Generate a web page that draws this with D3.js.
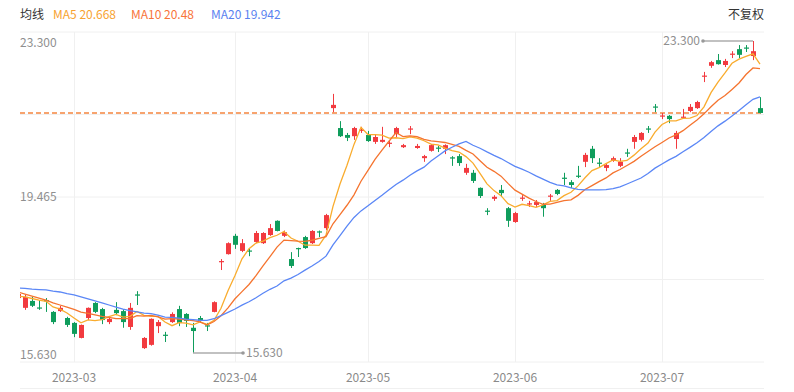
<!DOCTYPE html>
<html><head><meta charset="utf-8">
<script src="https://cdn.jsdelivr.net/npm/d3@7"></script>
<style>
body{margin:0;background:#fff}
svg{display:block}
text{font-family:"Noto Sans CJK SC","Noto Sans",sans-serif}
</style>
</head><body>
<svg id="chart" width="794" height="392"></svg>
<script>
// ---- data ----
const opens  = [16.98,16.74,16.91,16.75,16.93,16.64,16.66,16.49,16.37,16.00,16.49,16.86,16.71,16.39,16.69,16.66,16.27,17.07,15.75,15.83,
  16.29,16.08,16.39,16.71,16.59,16.25,16.49,16.31,16.64,17.87,18.06,18.51,18.14,18.15,18.36,18.33,18.53,18.88,18.51,17.94,
  18.21,18.48,18.33,18.62,18.70,21.65,21.16,20.99,20.96,21.10,20.99,20.82,20.82,20.78,21.01,20.69,21.12,20.67,20.42,20.60,
  20.68,20.65,20.44,20.47,20.06,20.06,19.69,19.13,19.42,19.64,19.19,18.85,19.43,19.28,19.27,19.27,19.48,19.64,19.94,19.83,
  19.99,20.33,20.65,20.31,20.18,20.35,20.23,20.56,20.82,20.87,21.15,21.69,21.44,21.46,20.89,21.42,21.58,21.65,22.43,22.69,
  22.83,22.71,22.97,23.10,23.14,22.93,21.65];
const highs  = [17.13,17.06,17.01,16.93,16.98,16.66,16.79,16.52,16.39,16.33,16.75,16.88,16.74,16.49,16.88,16.71,16.86,17.15,16.02,16.48,
  16.44,16.15,16.63,16.79,16.61,16.37,16.54,16.37,16.90,17.94,18.35,18.56,18.43,18.21,18.63,18.60,18.80,18.89,18.64,18.11,
  18.22,18.51,18.65,18.64,19.05,22.00,21.33,21.04,21.19,21.19,21.09,20.99,21.19,20.84,21.19,20.77,21.21,20.77,20.50,20.77,
  20.72,20.76,20.47,20.52,20.28,20.13,19.70,19.19,19.51,19.76,19.22,19.10,19.51,19.37,19.39,19.32,19.54,19.66,20.06,19.88,
  20.23,20.55,20.72,20.42,20.30,20.46,20.42,20.65,20.99,21.06,21.21,21.75,21.53,21.48,21.09,21.63,21.75,21.83,22.54,22.81,
  22.98,22.86,23.05,23.20,23.20,23.30,21.92];
const lows   = [16.93,16.69,16.76,16.69,16.64,16.34,16.64,16.27,16.02,15.99,16.44,16.61,16.34,16.34,16.56,16.25,16.20,16.81,15.73,15.81,
  16.12,15.90,16.37,16.29,16.27,15.63,16.37,16.17,16.63,17.67,18.05,18.19,18.11,18.01,18.33,18.31,18.51,18.62,18.48,17.72,
  17.99,18.19,18.31,18.48,18.65,21.55,20.94,20.84,20.87,21.04,20.82,20.77,20.80,20.69,20.94,20.67,21.01,20.65,20.33,20.58,
  20.57,20.52,20.23,20.23,20.01,19.81,19.44,19.02,19.37,19.47,18.73,18.83,19.37,19.22,19.22,18.98,19.37,19.51,19.76,19.69,
  19.93,20.20,20.30,20.20,20.10,20.33,20.20,20.45,20.65,20.83,21.04,21.55,21.38,21.28,20.65,21.41,21.55,21.63,22.29,22.64,
  22.72,22.66,22.88,22.88,23.03,22.83,21.52];
const closes = [17.08,17.01,16.79,16.72,16.90,16.39,16.74,16.32,16.10,16.32,16.74,16.64,16.44,16.47,16.61,16.39,16.74,17.04,16.00,16.47,
  16.39,16.06,16.59,16.37,16.42,16.17,16.42,16.28,16.88,17.89,18.33,18.29,18.33,18.13,18.58,18.58,18.70,18.63,18.60,17.77,
  18.19,18.21,18.63,18.59,19.02,21.73,20.96,20.92,21.16,21.12,20.84,20.94,20.87,20.80,21.16,20.74,21.15,20.72,20.47,20.74,
  20.66,20.74,20.41,20.30,20.18,19.86,19.49,19.11,19.47,19.56,18.88,19.07,19.45,19.31,19.34,19.19,19.50,19.54,19.92,19.76,
  19.97,20.50,20.42,20.29,20.25,20.42,20.33,20.53,20.94,21.04,21.12,21.67,21.47,21.38,21.04,21.44,21.68,21.80,22.45,22.78,
  22.73,22.81,22.99,22.96,23.12,23.05,21.53];
// moving-average values before a full window exists
const ma5Head  = [17.03,17.01,16.97,16.93];
const ma10Head = [17.13,17.08,17.03,16.98,16.93,16.86,16.81,16.76,16.70];
const ma20Head = [17.23,17.22,17.20,17.19,17.18,17.15,17.13,17.09,17.06,17.01,16.96,16.91,16.86,16.81,16.76,16.71,16.67,16.64,16.61];
const monthTickIndex  = [8,31,50,71,92];
const monthTickLabels = ["2023-03","2023-04","2023-05","2023-06","2023-07"];
const yTickValues = [23.3,19.465,15.63];
const yTickLabels = ["23.300","19.465","15.630"];
const legendNames  = ["MA5","MA10","MA20"];
const legendValues = ["20.668","20.48","19.942"];

// ---- styles ----
const UP = "#f23a3f", DOWN = "#0f9d5c";
const maColors = ["#f9ac2e","#f5742f","#5b87f6"];
const legendColors = ["#f7a330","#f8743a","#5a82f0"];

const svg = d3.select("#chart");
const L = 20, R = 764, T = 32, B = 362;
const x = d3.scaleLinear().domain([0, closes.length - 1]).range([18, 760]);
const y = d3.scaleLinear().domain([15.63, 23.3]).range([353, 41]);

function movingAvg(n, head) {
  return closes.map((c, i) => i < n - 1 ? head[i] : d3.mean(closes.slice(i - n + 1, i + 1)));
}
const mas = [movingAvg(5, ma5Head), movingAvg(10, ma10Head), movingAvg(20, ma20Head)];

// grid
const grid = svg.append("g").attr("stroke", "#f0f0f0").attr("stroke-width", 1);
d3.range(5).forEach(k => {
  const gy = T + k * (B - T) / 4;
  grid.append("line").attr("x1", L).attr("x2", R).attr("y1", gy).attr("y2", gy);
});
grid.append("line").attr("x1", L).attr("x2", R).attr("y1", 388.5).attr("y2", 388.5);
monthTickIndex.forEach(i => {
  const gx = Math.round(x(i)) + 0.5;
  grid.append("line").attr("x1", gx).attr("x2", gx).attr("y1", T).attr("y2", B);
});

// axes labels
svg.append("g").selectAll("text").data(yTickValues).join("text")
  .attr("x", L).attr("y", (d, i) => y(d) + (i === 1 ? 0 : 2)).attr("dy", "0.35em")
  .attr("font-size", 12).attr("fill", "#8f8f8f").text((d, i) => yTickLabels[i]);
svg.append("g").selectAll("text").data(monthTickIndex).join("text")
  .attr("x", d => x(d)).attr("y", 378).attr("dy", "0.35em").attr("text-anchor", "middle")
  .attr("font-size", 12).attr("fill", "#8a8a8a").text((d, i) => monthTickLabels[i]);

// clip
svg.append("clipPath").attr("id", "plotClip").append("rect")
  .attr("x", L).attr("y", 20).attr("width", R - L).attr("height", 345);
const plot = svg.append("g").attr("clip-path", "url(#plotClip)");

// last close dashed line
const last = closes[closes.length - 1];
plot.append("line").attr("x1", L).attr("x2", R).attr("y1", y(last)).attr("y2", y(last))
  .attr("stroke", "#f7a36e").attr("stroke-width", 2).attr("stroke-dasharray", "5,3");

// candles
const idx = d3.range(closes.length);
const cg = plot.append("g").selectAll("g").data(idx).join("g");
cg.append("line")
  .attr("x1", i => Math.round(x(i)) + 0.5).attr("x2", i => Math.round(x(i)) + 0.5)
  .attr("y1", i => y(highs[i])).attr("y2", i => y(lows[i]))
  .attr("stroke", i => closes[i] >= opens[i] ? UP : DOWN).attr("stroke-width", 1);
cg.append("rect")
  .attr("x", i => Math.round(x(i)) + 0.5 - 2.5).attr("width", 5)
  .attr("y", i => y(Math.max(opens[i], closes[i])))
  .attr("height", i => Math.max(1.2, Math.abs(y(opens[i]) - y(closes[i]))))
  .attr("fill", i => closes[i] >= opens[i] ? UP : DOWN);

// moving averages
mas.forEach((m, k) => {
  plot.append("path").datum(idx)
    .attr("fill", "none").attr("stroke", maColors[k]).attr("stroke-width", 1.3)
    .attr("d", d3.line().x(i => x(i)).y(i => y(m[i])));
});

// max / min markers
const iMax = d3.maxIndex(highs), iMin = d3.minIndex(lows);
const mk = svg.append("g");
function marker(i, val, dir) {
  const x0 = x(i), x1 = x0 + dir * 50, yy = y(val);
  mk.append("line").attr("x1", x0).attr("x2", x1).attr("y1", yy).attr("y2", yy)
    .attr("stroke", "#acacac").attr("stroke-width", 1.5);
  mk.append("circle").attr("cx", x1).attr("cy", yy).attr("r", 1.8).attr("fill", "#999");
  mk.append("text").attr("x", x1 + dir * 3).attr("y", yy).attr("dy", "0.35em")
    .attr("text-anchor", dir < 0 ? "end" : "start")
    .attr("font-size", 12).attr("fill", "#8f8f8f").text(val.toFixed(3));
}
marker(iMax, highs[iMax], -1);
marker(iMin, lows[iMin], 1);

// legend
const lg = svg.append("g").attr("font-size", 12);
lg.append("text").attr("x", 20).attr("y", 15).attr("dy", "0.35em").attr("fill", "#333").text("均线");
const legendX = [53, 131, 211];
legendNames.forEach((n, k) => {
  lg.append("text").attr("x", legendX[k]).attr("y", 15).attr("dy", "0.35em")
    .attr("fill", legendColors[k]).text(n + " " + legendValues[k]);
});
lg.append("text").attr("x", 764).attr("y", 15).attr("dy", "0.35em").attr("text-anchor", "end")
  .attr("fill", "#333").text("不复权");
</script>
</body></html>
